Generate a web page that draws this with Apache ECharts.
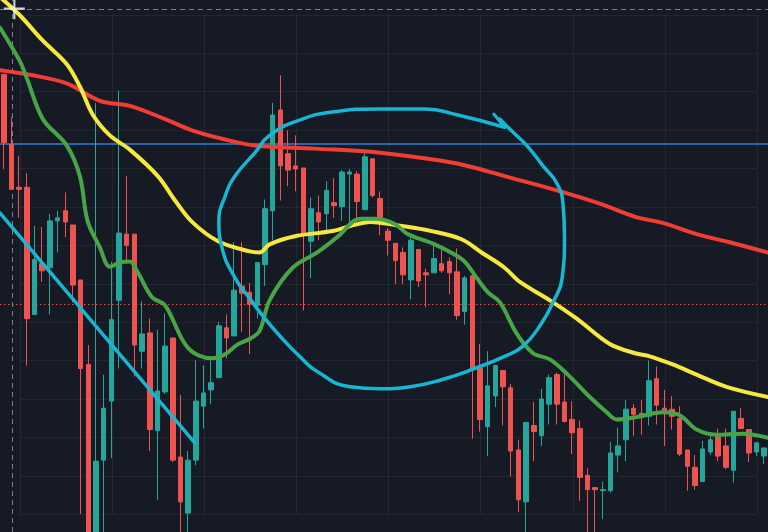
<!DOCTYPE html>
<html><head><meta charset="utf-8">
<script src="https://cdn.jsdelivr.net/npm/echarts@6/dist/echarts.min.js"></script>
<style>html,body{margin:0;padding:0;background:#161a25;}#c{width:768px;height:532px;}</style>
</head><body><div id="c"></div>
<script>
// OHLC values (arbitrary price units)
const opens = [459,390,348,348,223,273,269,315,325,311,
257,174,-18,80,138,237,302,302,187,205,
109,147,200,83,28,80,133,149,161,210,
202,251,245,232,272,325,424,381,369,367,
295,323,322,333,329,361,361,326,376,337,
305,293,284,257,287,264,264,273,275,265,
226,261,170,113,143,168,151,90,39,114,
104,135,164,137,120,111,65,53,50,50,
85,100,131,126,123,160,131,130,121,90,
73,59,88,103,94,70,121,110,88,84];
const closes = [392,346,346,219,277,266,315,318,314,252,
170,-18,79,131,218,303,291,193,204,110,
148,192,80,39,80,138,146,156,212,200,
247,244,233,274,327,419,369,365,366,303,
327,314,345,330,363,363,334,378,340,315,
296,276,262,296,256,262,278,266,264,222,
259,170,120,153,173,152,89,41,117,108,
140,161,135,118,107,63,51,51,51,87,
94,130,125,122,158,134,128,123,86,74,
55,91,100,84,73,128,111,87,97,92];
const lows = [366,346,318,173,223,255,223,284,299,235,
27,-28,-28,-13,82,170,273,162,170,89,
41,145,78,-8,-8,75,111,135,161,180,
202,206,184,219,251,296,335,349,344,227,
259,296,302,318,315,310,314,326,338,301,
281,253,253,238,250,230,264,264,243,218,
213,101,108,84,132,114,64,29,-8,79,
94,115,115,117,86,40,-8,-8,22,48,
68,79,104,105,114,115,94,110,84,50,
51,59,85,79,71,58,111,78,84,76];
const highs = [459,417,379,362,310,309,322,325,343,311,
257,193,431,164,275,443,359,302,236,219,
208,224,200,144,89,178,173,178,216,223,
294,294,254,274,336,431,458,404,399,367,
338,340,354,357,365,366,364,384,376,344,
308,293,289,299,287,268,294,288,279,288,
261,265,194,187,173,168,155,100,117,137,
150,164,166,165,138,119,72,53,59,98,
112,139,135,139,178,172,149,143,133,90,
85,99,104,111,111,128,131,110,97,92];

// Moving averages, sampled as [bar position, price]
const maSlow = [[-0.52,463],[3.78,458],[8.2,450],[12.5,433],[16.4,428],[21.0,415],[24.5,404],[28.8,395],[32.7,389],[40.5,386],[49.0,382],[57.0,374],[60.9,368],[65.2,359],[72.0,345],[77.6,332],[82.2,319],[85.8,313],[90.2,302],[94.5,294],[99.5,284]];
const maMid = [[-0.52,535],[2.08,517],[5.08,492],[8.2,469],[9.9,447],[11.6,419],[13.8,399],[16.4,385],[20.05,359],[22.3,335],[24.5,314],[27.9,295],[32.0,285],[33.3,284],[34.6,292],[37.9,300],[42.8,305],[45.1,310],[47.7,314],[51.8,310],[55.7,305],[59.6,297],[62.2,284],[65.2,269],[67.2,255],[71.1,237],[74.6,219],[78.9,194],[82.2,185],[84.1,182],[87.1,174],[90.2,164],[94.1,152],[99.5,142]];
const maFast = [[-0.52,505],[2.08,472],[3.0,455],[5.08,415],[8.2,389],[9.9,359],[10.9,315],[12.5,289],[13.8,270],[15.1,274],[16.4,275],[17.4,265],[19.3,240],[21.0,232],[24.0,190],[27.1,180],[28.8,184],[30.5,194],[32.0,199],[33.3,207],[34.6,237],[37.6,269],[40.8,284],[43.4,299],[46.4,317],[48.3,317],[50.9,312],[52.6,302],[56.1,292],[58.7,282],[60.0,275],[61.3,262],[63.0,245],[64.6,235],[66.8,204],[68.9,185],[71.1,179],[73.3,165],[76.3,142],[78.5,127],[79.8,120],[82.2,122],[85.8,127],[88.0,124],[90.2,110],[92.8,105],[96.2,106],[99.5,102]];

// Hand drawn annotations
const trendLine = [[-0.52,323],[24.87,97]];
const circleStroke = [[64.6,415],[65.9,405],[68.1,389],[70.2,369],[72.0,352],[72.8,332],[73.0,299],[72.7,259],[71.5,235],[69.8,212],[67.6,192],[65.2,182],[61.3,170],[57.0,159],[52.9,152],[49.0,150],[45.1,152],[40.8,167],[38.5,182],[36.3,199],[34.0,219],[32.0,239],[30.1,259],[28.4,289],[28.0,315],[28.8,339],[30.1,359],[32.7,382],[34.6,399],[38.5,414],[42.8,422],[49.0,425],[54.8,425],[59.1,419],[65.2,407]];
const arrowHook = [[63.8,420],[65.2,407]];
const levelBlue = 390.5;
const levelRedDotted = 233.4;
const crossPrice = 522.7;
const crossBar = 1.08;
const cursorPoint = [[1.37, 523.5]];

const categories = opens.map((_, i) => 'B' + (i + 1));
const candles = opens.map((o, i) => [o, closes[i], lows[i], highs[i]]);

const chart = echarts.init(document.getElementById('c'), null, {renderer: 'canvas'});
const gridColor = 'rgba(255,255,255,0.055)';
function maSeries(name, data, color) {
  return {name, type: 'line', xAxisIndex: 1, yAxisIndex: 0, data, smooth: 0.35,
    showSymbol: false, silent: true, z: 4,
    lineStyle: {color, width: 4, cap: 'round', join: 'round'}};
}
chart.setOption({
  animation: false,
  backgroundColor: '#161a25',
  grid: [
    {left: 0, right: 0, top: 0, bottom: 0},
    {left: 20, right: 11, top: 14.8, bottom: 17.6}
  ],
  xAxis: [
    {type: 'category', data: categories, gridIndex: 0, boundaryGap: true, show: false},
    {type: 'value', gridIndex: 0, min: -0.5, max: 99.5, show: false},
    {type: 'value', gridIndex: 1, min: 0, max: 8, interval: 1,
      axisLine: {show: false}, axisTick: {show: false}, axisLabel: {show: false},
      splitLine: {show: true, lineStyle: {color: gridColor, width: 1}}}
  ],
  yAxis: [
    {type: 'value', gridIndex: 0, min: 9.4, max: 532, show: false},
    {type: 'value', gridIndex: 1, min: 0, max: 13, interval: 1,
      axisLine: {show: false}, axisTick: {show: false}, axisLabel: {show: false},
      splitLine: {show: true, lineStyle: {color: gridColor, width: 1}}}
  ],
  series: [
    {type: 'candlestick', xAxisIndex: 0, yAxisIndex: 0, data: candles, barWidth: 5, z: 3,
      itemStyle: {color: '#26a69a', color0: '#ef5350', borderColor: '#26a69a', borderColor0: '#ef5350', borderWidth: 1}},
    maSeries('MA slow', maSlow, '#f23d32'),
    maSeries('MA mid', maMid, '#f7e840'),
    maSeries('MA fast', maFast, '#47a447'),
    {type: 'line', xAxisIndex: 1, yAxisIndex: 0, data: trendLine, showSymbol: false, silent: true, z: 5,
      lineStyle: {color: '#17b6d3', width: 3.5, cap: 'round'}},
    {type: 'line', xAxisIndex: 1, yAxisIndex: 0, data: circleStroke, smooth: 0.5, showSymbol: false, silent: true, z: 5,
      lineStyle: {color: '#17b6d3', width: 3.5, cap: 'round', join: 'round'}},
    {type: 'line', xAxisIndex: 1, yAxisIndex: 0, data: arrowHook, showSymbol: false, silent: true, z: 5,
      lineStyle: {color: '#17b6d3', width: 3, cap: 'round'}},
    {type: 'scatter', xAxisIndex: 1, yAxisIndex: 0, data: cursorPoint, z: 10, silent: true,
      symbol: 'path://M9,0h2v20h-2zM0,9h20v2h-20z', symbolSize: 21,
      itemStyle: {color: '#ffffff'},
      markLine: {silent: true, symbol: ['none', 'none'], label: {show: false}, z: 2,
        data: [
          {yAxis: levelBlue, lineStyle: {color: '#2c7fd6', width: 1.5, type: 'solid'}},
          {yAxis: levelRedDotted, lineStyle: {color: '#ec4a42', width: 1.2, type: [1.5, 2.5]}},
          {yAxis: crossPrice, lineStyle: {color: '#7d808a', width: 1, type: [5, 4]}},
          {xAxis: crossBar, lineStyle: {color: '#7d808a', width: 1, type: [5, 4]}}
        ]}}
  ]
});
</script>
</body></html>
